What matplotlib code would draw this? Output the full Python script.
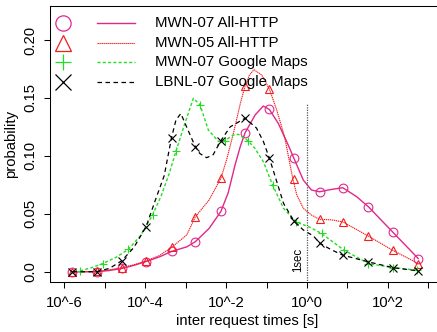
import numpy as np
import matplotlib
matplotlib.use('Agg')
import matplotlib.pyplot as plt

plt.rcParams['font.family'] = ['Liberation Sans', 'DejaVu Sans']

# log10 of inter request time [s], probabilities
grid_logt = [-5.80, -5.20, -4.58, -3.98, -3.35, -2.76, -2.13, -1.53, -0.93, -0.325, 0.31, 0.885, 1.52, 2.115, 2.75]
gm07_logt = [-5.61, -5.05, -4.42, -3.82, -3.24, -2.645, -2.04, -1.455, -0.85, -0.275, 0.36, 0.915, 1.52, 2.115, 2.73]

mwn07_all_p = [0.000, 0.000, 0.0028, 0.0088, 0.0175, 0.026, 0.052, 0.120, 0.140, 0.098, 0.069, 0.0725, 0.056, 0.0344, 0.0114]
mwn05_all_p = [0.000, 0.0003, 0.0036, 0.0093, 0.021, 0.0474, 0.0806, 0.1605, 0.1576, 0.080, 0.0452, 0.043, 0.0307, 0.0186, 0.0071]
mwn07_gm_p = [0.0007, 0.007, 0.0192, 0.0489, 0.104, 0.144, 0.113, 0.113, 0.0748, 0.0431, 0.033, 0.0186, 0.0071, 0.0036, 0.0013]
lbnl07_gm_p = [0.000, 0.000, 0.0095, 0.0388, 0.1157, 0.1078, 0.1131, 0.1325, 0.098, 0.0437, 0.0245, 0.0143, 0.0085, 0.0036, 0.0007]

# smoothed density lines (traced)
mwn07_all_curve_logt = [-5.80, -5.50, -5.20, -4.90, -4.58, -4.28, -3.98, -3.65, -3.35, -2.97, -2.76, -2.42, -2.13, -1.95,
                        -1.78, -1.65, -1.53, -1.28, -1.08, -0.93, -0.71, -0.46, -0.325, -0.09, 0.11, 0.31, 0.60, 0.885,
                        1.23, 1.52, 2.115, 2.75]
mwn07_all_curve_p = [0.000, 0.000, 0.000, 0.001, 0.0028, 0.0055, 0.0088, 0.0128, 0.0175, 0.0215, 0.026, 0.0374, 0.052, 0.068,
                     0.092, 0.108, 0.120, 0.1354, 0.143, 0.140, 0.128, 0.109, 0.098, 0.079, 0.0705, 0.069, 0.071, 0.0725,
                     0.0647, 0.056, 0.0344, 0.0114]

mwn05_all_curve_logt = [-5.80, -5.50, -5.20, -4.90, -4.58, -4.28, -3.98, -3.65, -3.35, -2.975, -2.76, -2.42, -2.13, -1.99,
                        -1.82, -1.65, -1.53, -1.42, -1.31, -1.12, -0.93, -0.75, -0.58, -0.54, -0.44, -0.35, -0.25, -0.09,
                        0.11, 0.31, 0.60, 0.885, 1.52, 2.115, 2.75]
mwn05_all_curve_p = [0.000, 0.000, 0.0003, 0.0015, 0.0036, 0.006, 0.0093, 0.014, 0.021, 0.0317, 0.0474, 0.062, 0.0806, 0.0964,
                     0.1195, 0.145, 0.1605, 0.170, 0.1743, 0.1698, 0.1576, 0.1397, 0.1195, 0.114, 0.096, 0.080, 0.066, 0.0547,
                     0.0489, 0.0452, 0.0448, 0.043, 0.0307, 0.0186, 0.0071]

mwn07_gm_curve_logt = [-5.61, -5.33, -5.05, -4.72, -4.42, -4.12, -3.82, -3.60, -3.40, -3.24, -3.02, -2.81, -2.645, -2.44,
                       -2.19, -2.04, -1.82, -1.70, -1.455, -1.29, -1.08, -0.85, -0.58, -0.275, 0.07, 0.36, 0.915, 1.52,
                       2.115, 2.73]
mwn07_gm_curve_p = [0.0007, 0.0035, 0.007, 0.0125, 0.0192, 0.031, 0.0489, 0.066, 0.0855, 0.104, 0.128, 0.1497, 0.144, 0.1223,
                    0.1125, 0.113, 0.118, 0.1186, 0.113, 0.1065, 0.095, 0.0748, 0.0547, 0.0431, 0.0384, 0.033, 0.0186, 0.0071,
                    0.0036, 0.0013]

lbnl07_gm_curve_logt = [-5.80, -5.50, -5.20, -4.88, -4.58, -4.28, -3.98, -3.72, -3.53, -3.35, -3.24, -3.12, -2.94, -2.76,
                        -2.65, -2.48, -2.32, -2.13, -1.90, -1.53, -1.25, -1.08, -0.93, -0.75, -0.58, -0.325, -0.09, 0.16,
                        0.32, 0.60, 0.885, 1.52, 2.115, 2.75]
lbnl07_gm_curve_p = [0.000, 0.000, 0.000, 0.003, 0.0095, 0.021, 0.0388, 0.0647, 0.083, 0.1157, 0.131, 0.1365, 0.122, 0.1078,
                     0.102, 0.0984, 0.101, 0.1131, 0.125, 0.1325, 0.124, 0.1125, 0.098, 0.078, 0.059, 0.0437, 0.036, 0.0308,
                     0.0245, 0.019, 0.0143, 0.0085, 0.0036, 0.0007]

labels = ['MWN-07 All-HTTP', 'MWN-05 All-HTTP', 'MWN-07 Google Maps', 'LBNL-07 Google Maps']
colors = ['#e0288a', '#f41c1c', '#22dd22', 'black']
markers = ['o', '^', '+', 'x']
styles = ['-', (0, (1.2, 0.6)), (0, (2.2, 1.6)), (0, (3.6, 2.8))]
widths = [1.0, 0.8, 1.0, 0.9]

series = [
    (mwn07_all_curve_logt, mwn07_all_curve_p, grid_logt, mwn07_all_p),
    (mwn05_all_curve_logt, mwn05_all_curve_p, grid_logt, mwn05_all_p),
    (mwn07_gm_curve_logt, mwn07_gm_curve_p, gm07_logt, mwn07_gm_p),
    (lbnl07_gm_curve_logt, lbnl07_gm_curve_p, grid_logt, lbnl07_gm_p),
]

fig = plt.figure(figsize=(4.37, 3.32), dpi=100)
ax = fig.add_axes([0.1144, 0.1515, 0.9039, 0.8304])

for (cx, cy, mx, my), c, m, ls, lw in zip(series, colors, markers, styles, widths):
    ax.plot(10.0 ** np.array(cx), cy, color=c, linestyle=ls, linewidth=lw,
            solid_joinstyle='round', dash_joinstyle='round')
    ax.plot(10.0 ** np.array(mx), my, linestyle='none', marker=m, markersize=6.3,
            markerfacecolor='none', markeredgecolor=c, markeredgewidth=0.8)

# 1 second marker
ax.vlines(1.0, -0.01, 0.1455, colors='#555555', linestyles=(0, (1, 1)), linewidth=0.9)
ax.text(10 ** -0.21, 0.0, '1sec', rotation=90, ha='center', va='bottom', fontsize=8.3)

# legend drawn by hand: marker column, line column, text column
rows = [0.938, 0.866, 0.797, 0.724]
for ry, lab, c, m, ls, lw in zip(rows, labels, colors, markers, styles, widths):
    ax.plot([0.033], [ry], transform=ax.transAxes, marker=m, markersize=11,
            markerfacecolor='none', markeredgecolor=c, markeredgewidth=0.9, linestyle='none')
    ax.plot([0.119, 0.215], [ry, ry], transform=ax.transAxes, color=c, linestyle=ls, linewidth=lw)
    ax.text(0.266, ry, lab, transform=ax.transAxes, ha='left', va='center', fontsize=10.8)

ax.set_xscale('log')
ax.set_xlim(10 ** -6.355, 10 ** 3.412)
ax.set_ylim(-0.0086, 0.2293)

xticks = [1e-6, 1e-5, 1e-4, 1e-3, 1e-2, 1e-1, 1e0, 1e1, 1e2, 1e3]
xticklabels = ['10^-6', '', '10^-4', '', '10^-2', '', '10^0', '', '10^2', '']
ax.set_xticks(xticks)
ax.set_xticklabels(xticklabels, fontsize=10.7)
ax.xaxis.set_minor_locator(matplotlib.ticker.NullLocator())

yticks = [0.0, 0.05, 0.10, 0.15, 0.20]
ax.set_yticks(yticks)
ax.set_yticklabels(['0.0', '0.05', '0.10', '0.15', '0.20'], rotation=90, va='center', fontsize=10.7)

ax.tick_params(axis='both', direction='out', length=4, width=0.75, color='black')
ax.tick_params(axis='x', pad=6)
ax.tick_params(axis='y', pad=5)
for s in ax.spines.values():
    s.set_linewidth(0.75)

ax.set_xlabel('inter request times [s]', fontsize=10.7, labelpad=3)
ax.set_ylabel('probability', fontsize=10.7, labelpad=4)

fig.savefig('out.png', dpi=100)
